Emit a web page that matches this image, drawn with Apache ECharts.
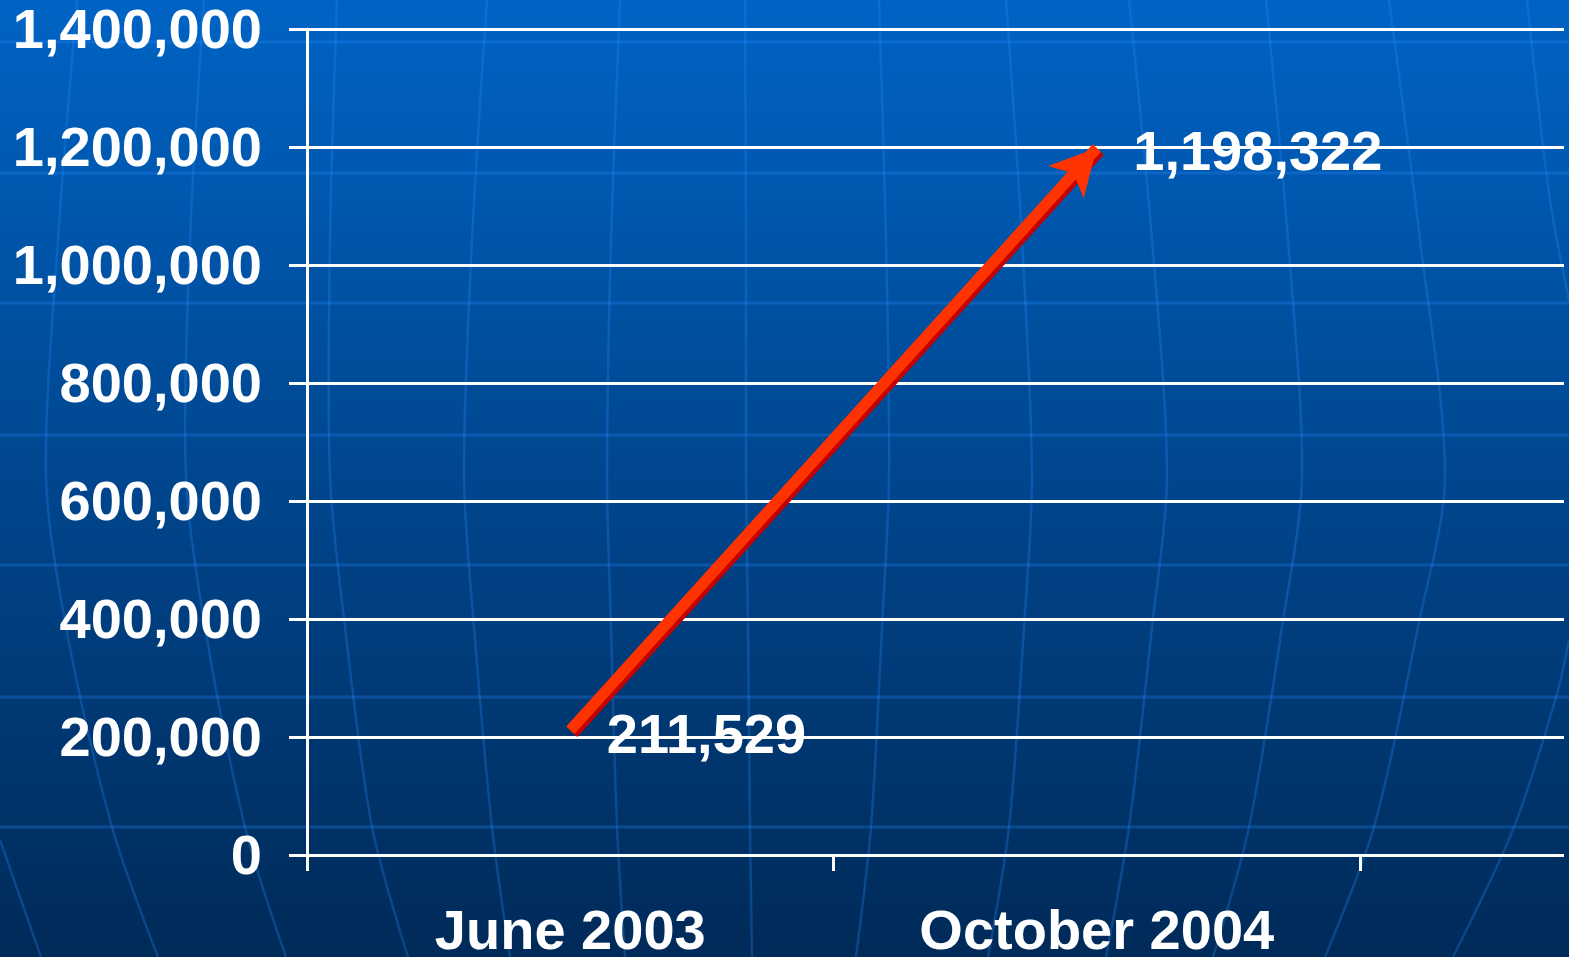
<!DOCTYPE html>
<html>
<head>
<meta charset="utf-8">
<script src="https://cdn.jsdelivr.net/npm/echarts@6/dist/echarts.min.js"></script>
<style>
  html, body { margin: 0; padding: 0; background: #003a7a; }
  #chart { width: 1569px; height: 957px; }
</style>
</head>
<body>
<div id="chart"></div>
<script>
// Subscriber counts at the two reporting dates
const categories = ['June 2003', 'October 2004'];
const subscribers = [211529, 1198322];

// Value axis range and step
const yMin = 0;
const yMax = 1400000;
const yStep = 200000;

const FONT = '"Liberation Sans", Arial, sans-serif';
const fmt = v => Number(v).toLocaleString('en-US');

// Decorative globe lines behind the chart
const meridians = [
  [[77,0],[58,240],[46,477],[66,627],[112,827],[158,957]],
  [[0,840],[41,957]],
  [[204,0],[190,240],[186,477],[205,627],[245,827],[286,957]],
  [[337,0],[330,240],[330,477],[345,627],[372,827],[408,957]],
  [[487,0],[472,240],[464,477],[474,627],[492,827],[510,957]],
  [[620,0],[611,240],[607,477],[611,627],[617,827],[625,957]],
  [[745,0],[746,240],[746,477],[748,627],[750,827],[752,957]],
  [[879,0],[886,240],[889,477],[882,627],[871,827],[856,957]],
  [[1006,0],[1022,240],[1032,477],[1024,627],[1009,827],[988,957]],
  [[1129,0],[1152,240],[1167,477],[1152,627],[1129,827],[1106,957]],
  [[1266,0],[1288,240],[1302,477],[1282,627],[1249,827],[1213,957]],
  [[1389,0],[1420,240],[1445,477],[1418,627],[1374,827],[1325,957]],
  [[1527,0],[1550,200],[1569,300]],
  [[1569,640],[1557,694],[1514,827],[1453,957]]
];
const parallels = [42, 173, 303, 435, 565, 697, 827];
const decoColor = 'rgba(40,140,255,0.28)';

const graphic = [];
meridians.forEach(pts => graphic.push({
  type: 'polyline', silent: true, z: -10,
  shape: { points: pts, smooth: 0.3 },
  style: { stroke: decoColor, lineWidth: 2.5, fill: null }
}));
parallels.forEach(y => graphic.push({
  type: 'line', silent: true, z: -10,
  shape: { x1: 0, y1: y, x2: 1569, y2: y },
  style: { stroke: decoColor, lineWidth: 3 }
}));

const chart = echarts.init(document.getElementById('chart'), null, { renderer: 'canvas' });

const white = '#ffffff';

chart.setOption({
  animation: false,
  backgroundColor: {
    type: 'linear', x: 0, y: 0, x2: 0, y2: 1,
    colorStops: [
      { offset: 0, color: '#0063c4' },
      { offset: 0.5, color: '#00468e' },
      { offset: 1, color: '#002a58' }
    ]
  },
  graphic: graphic,
  grid: [
    { left: 307, right: 5, top: 29, bottom: 102, outerBoundsMode: 'none' },
    { left: 307, width: 1053, top: 29, bottom: 102, outerBoundsMode: 'none' }
  ],
  xAxis: [
    { gridIndex: 0, type: 'value', min: 0, max: 1, show: false },
    {
      gridIndex: 1, type: 'category', data: categories, boundaryGap: true,
      axisLine: { show: false },
      axisTick: { show: true, length: 16, lineStyle: { color: white, width: 3 } },
      axisLabel: {
        color: white, fontFamily: FONT, fontWeight: 'bold', fontSize: 56,
        verticalAlign: 'top', lineHeight: 56, margin: 51
      },
      splitLine: { show: false }
    }
  ],
  yAxis: [
    {
      gridIndex: 0, type: 'value', min: yMin, max: yMax, interval: yStep,
      axisLine: { show: true, lineStyle: { color: white, width: 3 } },
      axisTick: { show: true, length: 18, lineStyle: { color: white, width: 3 } },
      axisLabel: {
        color: white, fontFamily: FONT, fontWeight: 'bold', fontSize: 56,
        margin: 45, verticalAlign: 'top', lineHeight: 8, formatter: fmt
      },
      splitLine: { show: true, lineStyle: { color: white, width: 3 } }
    },
    { gridIndex: 1, type: 'value', min: yMin, max: yMax, interval: yStep, show: false }
  ],
  series: [
    {
      type: 'line',
      xAxisIndex: 1, yAxisIndex: 1,
      data: subscribers,
      symbol: 'circle', symbolSize: 1,
      itemStyle: { color: 'rgba(0,0,0,0)' },
      lineStyle: { width: 0, opacity: 0 },
      silent: true,
      label: {
        show: true, position: 'right', distance: 36, offset: [0, 7],
        color: white, fontFamily: FONT, fontWeight: 'bold', fontSize: 56,
        formatter: p => fmt(p.value)
      },
      markLine: {
        silent: true,
        symbol: ['none', 'arrow'],
        symbolSize: [36, 46],
        label: { show: false },
        lineStyle: {
          color: '#ff3300', width: 11, type: 'solid', opacity: 1,
          shadowColor: '#c40000', shadowOffsetX: 3, shadowOffsetY: 3, shadowBlur: 0
        },
        emphasis: { disabled: true },
        data: [[
          { coord: [categories[0], subscribers[0]] },
          { coord: [categories[1], subscribers[1]] }
        ]]
      }
    }
  ]
});
</script>
</body>
</html>
